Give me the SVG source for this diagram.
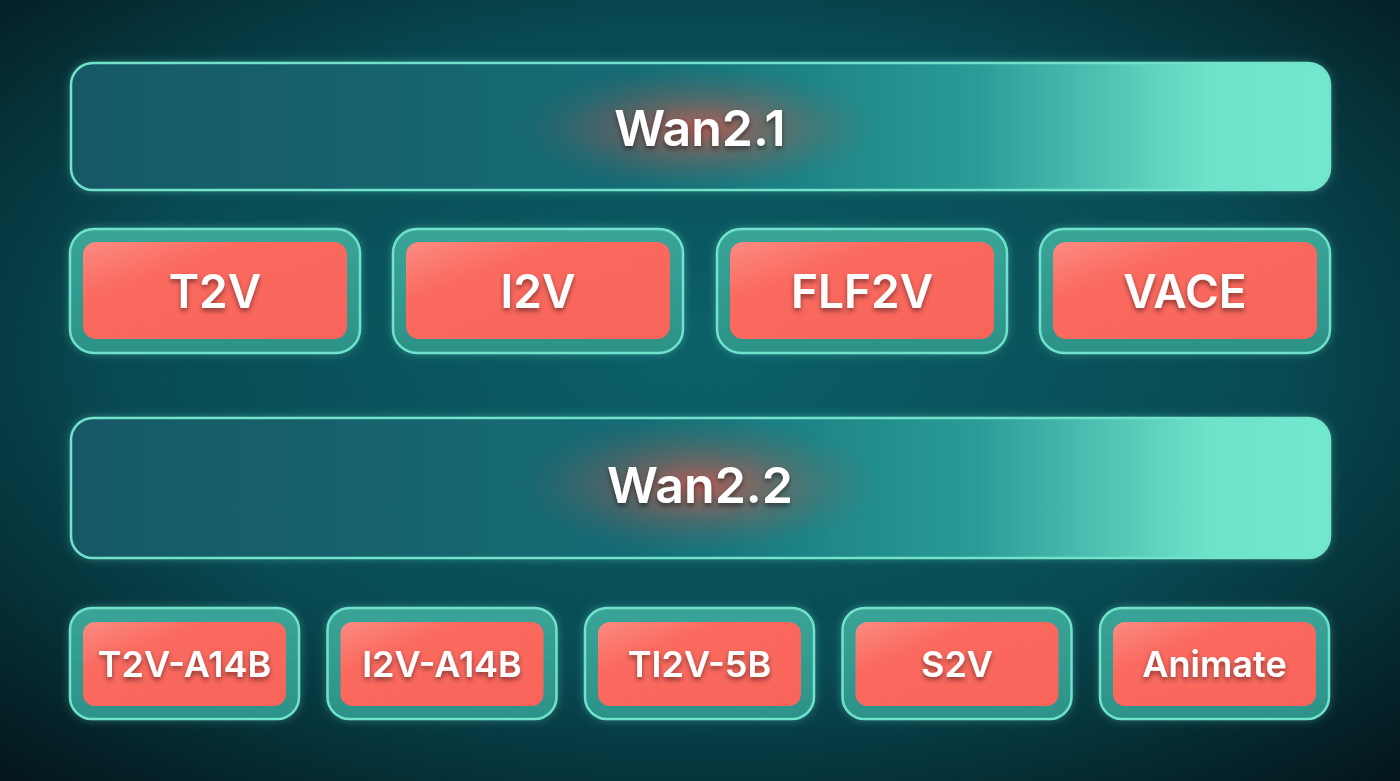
<svg xmlns="http://www.w3.org/2000/svg" width="1400" height="781" viewBox="0 0 1400 781">
<defs>
<radialGradient id="bg" cx="50%" cy="45%" r="75%">
<stop offset="0" stop-color="#0b6068"/>
<stop offset="0.55" stop-color="#084a53"/>
<stop offset="1" stop-color="#031419"/>
</radialGradient>
<linearGradient id="bar" x1="0" y1="0" x2="1" y2="0">
<stop offset="0" stop-color="#135866"/>
<stop offset="0.45" stop-color="#126c75"/>
<stop offset="0.72" stop-color="#2a9c98"/>
<stop offset="0.9" stop-color="#6ce2c8"/>
<stop offset="1" stop-color="#72e8cf"/>
</linearGradient>
<radialGradient id="redglow" cx="50%" cy="50%" r="50%">
<stop offset="0" stop-color="#e8584a" stop-opacity="0.75"/>
<stop offset="0.5" stop-color="#b4584e" stop-opacity="0.35"/>
<stop offset="1" stop-color="#6a5e5c" stop-opacity="0"/>
</radialGradient>
<linearGradient id="red" x1="0" y1="0" x2="1" y2="1">
<stop offset="0" stop-color="#fb8b82"/>
<stop offset="0.3" stop-color="#fb6a5f"/>
<stop offset="1" stop-color="#f8645a"/>
</linearGradient>
<linearGradient id="outer" x1="0" y1="0" x2="0" y2="1">
<stop offset="0" stop-color="#3aa497"/>
<stop offset="1" stop-color="#2c9288"/>
</linearGradient>
<filter id="sh" x="-20%" y="-40%" width="140%" height="180%">
<feDropShadow dx="0" dy="3" stdDeviation="2.5" flood-color="#000" flood-opacity="0.45"/>
</filter>
<filter id="glow" x="-10%" y="-30%" width="120%" height="160%">
<feDropShadow dx="0" dy="0" stdDeviation="4" flood-color="#6fe6cf" flood-opacity="0.35"/>
</filter>
<style>
.bar{fill:url(#bar);stroke:#72e2cb;stroke-width:2.5}
.out{fill:url(#outer);stroke:#6fe2cb;stroke-width:2.5;filter:url(#glow)}
.in{fill:url(#red)}
.t{font-family:Inter,"Liberation Sans",Arial,sans-serif;font-weight:600;fill:#fff;text-anchor:middle;dominant-baseline:central;filter:url(#sh)}
.big{font-size:50px}
.mid{font-size:46px}
.sm{font-size:36px}
</style>
</defs>
<rect width="1400" height="781" fill="url(#bg)"/>

<g id="wan21">
<rect class="bar" x="71" y="63" width="1259" height="127" rx="22" filter="url(#glow)"/>
<ellipse cx="700" cy="128" rx="180" ry="62" fill="url(#redglow)"/>
<text class="t big" x="700" y="128">Wan2.1</text>
</g>

<g id="wan22">
<rect class="bar" x="71" y="418" width="1259" height="140" rx="22" filter="url(#glow)"/>
<ellipse cx="700" cy="485" rx="180" ry="68" fill="url(#redglow)"/>
<text class="t big" x="700" y="485">Wan2.2</text>
</g>

<g id="t2v"><rect class="out" x="70" y="229" width="290" height="124" rx="24"/><rect class="in" x="83" y="242" width="264" height="97" rx="13"/><text class="t mid" x="215" y="291">T2V</text></g>
<g id="i2v"><rect class="out" x="393" y="229" width="290" height="124" rx="24"/><rect class="in" x="406" y="242" width="264" height="97" rx="13"/><text class="t mid" x="538" y="291">I2V</text></g>
<g id="flf2v"><rect class="out" x="717" y="229" width="290" height="124" rx="24"/><rect class="in" x="730" y="242" width="264" height="97" rx="13"/><text class="t mid" x="862" y="291">FLF2V</text></g>
<g id="vace"><rect class="out" x="1040" y="229" width="290" height="124" rx="24"/><rect class="in" x="1053" y="242" width="264" height="97" rx="13"/><text class="t mid" x="1185" y="291">VACE</text></g>

<g id="t2v-a14b"><rect class="out" x="70" y="608" width="229" height="111" rx="22"/><rect class="in" x="83" y="622" width="203" height="84" rx="12"/><text class="t sm" x="184.5" y="664">T2V-A14B</text></g>
<g id="i2v-a14b"><rect class="out" x="327.5" y="608" width="229" height="111" rx="22"/><rect class="in" x="340.5" y="622" width="203" height="84" rx="12"/><text class="t sm" x="442" y="664">I2V-A14B</text></g>
<g id="ti2v-5b"><rect class="out" x="585" y="608" width="229" height="111" rx="22"/><rect class="in" x="598" y="622" width="203" height="84" rx="12"/><text class="t sm" x="699.5" y="664">TI2V-5B</text></g>
<g id="s2v"><rect class="out" x="842.5" y="608" width="229" height="111" rx="22"/><rect class="in" x="855.5" y="622" width="203" height="84" rx="12"/><text class="t sm" x="957" y="664">S2V</text></g>
<g id="animate"><rect class="out" x="1100" y="608" width="229" height="111" rx="22"/><rect class="in" x="1113" y="622" width="203" height="84" rx="12"/><text class="t sm" x="1214.5" y="664">Animate</text></g>

<g id="connectors"/>
</svg>
